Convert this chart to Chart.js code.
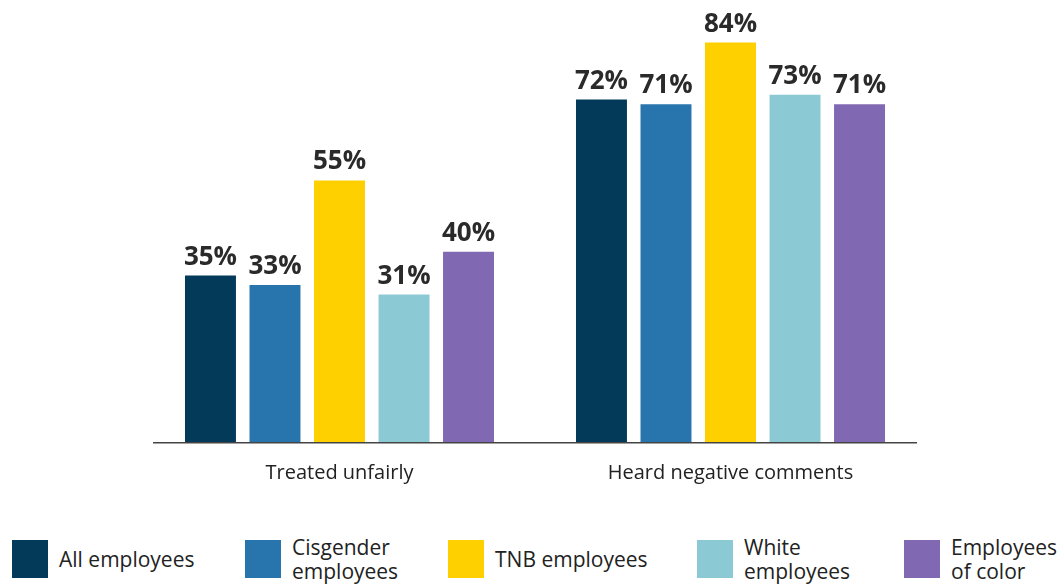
<!DOCTYPE html>
<html lang="en">
  <head>
    <meta charset="UTF-8" />
    <title>Treated unfairly / Heard negative comments</title>
    <script src="https://cdn.jsdelivr.net/npm/chart.js"></script>
  </head>
  <style>
    body {
      margin: 0;
      background: #fff;
      font-family: "Open Sans", sans-serif;
      width: 1064px;
      height: 585px;
      overflow: hidden;
      position: relative;
    }
    #wrap {
      position: absolute;
      left: 0;
      top: 0;
      width: 1064px;
      height: 504px;
    }
    #legend {
      position: absolute;
      top: 538px;
      left: 0;
      width: 1064px;
      height: 44px;
    }
    .item {
      position: absolute;
      top: 0;
      display: flex;
      align-items: center;
      height: 42px;
    }
    .box {
      width: 36px;
      height: 38px;
      margin-right: 11px;
    }
    .txt {
      font-size: 21px;
      line-height: 24px;
      color: #222;
      white-space: nowrap;
    }
  </style>
  <body>
    <div id="wrap"><canvas id="myChart"></canvas></div>
    <div id="legend"></div>
    <script>
      const categories = ["Treated unfairly", "Heard negative comments"];
      const groups = [
        "All employees",
        "Cisgender\nemployees",
        "TNB employees",
        "White\nemployees",
        "Employees\nof color",
      ];
      const allEmployees = [35, 72];
      const cisgender = [33, 71];
      const tnb = [55, 84];
      const white = [31, 73];
      const ofColor = [40, 71];
      const colors = ["#033a5a", "#2874ad", "#fed000", "#8bc9d4", "#8068b2"];
      const legendLeft = [12, 245, 448, 697, 904];

      const values = [allEmployees, cisgender, tnb, white, ofColor];

      // value labels above the bars + baseline a bit shorter than the plot area
      const barLabels = {
        id: "barLabels",
        afterDatasetsDraw(chart) {
          const ctx = chart.ctx;
          const a = chart.chartArea;
          ctx.save();
          ctx.strokeStyle = "#444";
          ctx.lineWidth = 1.5;
          ctx.beginPath();
          ctx.moveTo(a.left + 9, a.bottom + 0.75);
          ctx.lineTo(a.right - 9, a.bottom + 0.75);
          ctx.stroke();
          ctx.font = "bold 26px 'Open Sans'";
          ctx.fillStyle = "#2a2a2a";
          ctx.textAlign = "center";
          ctx.textBaseline = "alphabetic";
          chart.data.datasets.forEach((ds, i) => {
            chart.getDatasetMeta(i).data.forEach((bar, j) => {
              ctx.fillText(ds.data[j] + "%", bar.x, bar.y - 11);
            });
          });
          ctx.restore();
        },
      };

      new Chart(document.getElementById("myChart"), {
        type: "bar",
        data: {
          labels: categories,
          datasets: values.map((v, i) => ({
            label: groups[i].replace("\n", " "),
            data: v,
            backgroundColor: colors[i],
            categoryPercentage: 0.825,
            barPercentage: 0.79,
          })),
        },
        options: {
          responsive: true,
          maintainAspectRatio: false,
          animation: false,
          layout: { padding: { left: 144, right: 138, top: 14, bottom: 0 } },
          plugins: {
            legend: { display: false },
            tooltip: { enabled: false },
          },
          scales: {
            x: {
              grid: { display: false, drawTicks: false },
              border: { display: false },
              ticks: {
                color: "#222",
                padding: 19,
                font: { family: "'Open Sans'", size: 20 },
              },
            },
            y: {
              display: false,
              min: 0,
              max: 90,
            },
          },
        },
        plugins: [barLabels],
      });

      const legend = document.getElementById("legend");
      groups.forEach((g, i) => {
        const item = document.createElement("div");
        item.className = "item";
        item.style.left = legendLeft[i] + "px";
        const box = document.createElement("div");
        box.className = "box";
        box.style.background = colors[i];
        const txt = document.createElement("div");
        txt.className = "txt";
        txt.innerHTML = g.split("\n").join("<br>");
        item.appendChild(box);
        item.appendChild(txt);
        legend.appendChild(item);
      });
    </script>
  </body>
</html>
